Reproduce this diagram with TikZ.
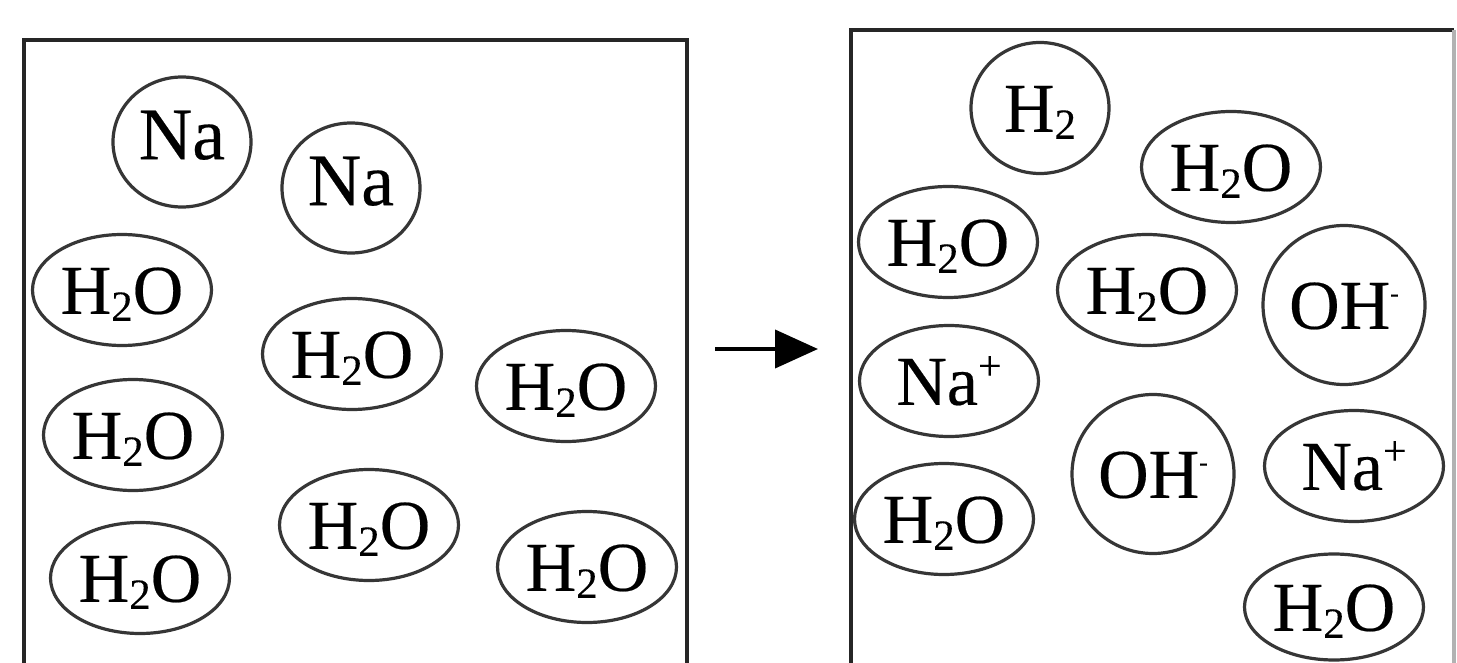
\documentclass[tikz,border=0pt]{standalone}
\usepackage{fontspec}
\setmainfont{Liberation Serif}
\newfontfamily\molfont[FakeBold=0.3]{Liberation Serif}
\usetikzlibrary{shapes.geometric,arrows.meta}
\definecolor{molgray}{HTML}{363636}
\definecolor{boxgray}{HTML}{262626}
\newcommand{\lbl}[2][0pt]{\raisebox{\dimexpr-0.34em+#1\relax}[0pt][0pt]{\makebox[0pt]{#2}}}
\newcommand{\sbt}[1]{\raisebox{-7pt}{\fontsize{43}{43}\selectfont #1}}
\newcommand{\spt}[1]{\raisebox{25pt}{\fontsize{42}{42}\selectfont #1}}
\newcommand{\minus}{\raisebox{27pt}{\fontsize{26}{26}\selectfont -}}
\tikzset{
  mol/.style={ellipse, draw=molgray, line width=3.2pt, inner sep=0pt, outer sep=0pt,
    font=\molfont\fontsize{70}{84}\selectfont},
  water/.style={mol, minimum width=179pt, minimum height=111pt},
  sodium/.style={mol, minimum width=138pt, minimum height=130pt, font=\molfont\fontsize{74}{88}\selectfont},
  ion/.style={mol, minimum width=179pt, minimum height=111pt},
  hydroxide/.style={mol, minimum width=162pt, minimum height=159pt},
  boxline/.style={draw=boxgray, line width=3.5pt},
  reacts/.style={line width=4pt, -{Triangle[length=43pt, width=38pt]}}
}
\begin{document}
\begin{tikzpicture}[x=1pt, y=-1pt]
\fill[white] (0,0) rectangle (1457,663);
\useasboundingbox (0,0) rectangle (1457,663);
% boxes
\coordinate (LB1) at (24,675);
\coordinate (LB2) at (24,40);
\coordinate (LB3) at (687,40);
\coordinate (LB4) at (687,675);
\draw[boxline] (LB1) -- (LB2) -- (LB3) -- (LB4);
\coordinate (RB1) at (851,675);
\coordinate (RB2) at (851,30);
\coordinate (RB3) at (1454,30);
\coordinate (RB4) at (1454,675);
\draw[boxline] (RB1) -- (RB2) -- (RB3);
\draw[boxline, draw=gray!60] (RB3) -- (RB4);
% arrow
\coordinate (A1) at (715,349);
\coordinate (A2) at (818,349);
\draw[reacts] (A1) -- (A2);
% left: before
\node[sodium] (na1) at (182,142) {\lbl[8pt]{Na}};
\node[sodium] (na2) at (351,188) {\lbl[8pt]{Na}};
\node[water] (lw1) at (122,290) {\lbl{H\sbt{2}O}};
\node[water] (lw2) at (352,354) {\lbl{H\sbt{2}O}};
\node[water] (lw3) at (566,386) {\lbl{H\sbt{2}O}};
\node[water] (lw4) at (133,435) {\lbl{H\sbt{2}O}};
\node[water] (lw5) at (369,525) {\lbl{H\sbt{2}O}};
\node[water] (lw6) at (140,578) {\lbl{H\sbt{2}O}};
\node[water] (lw7) at (587,567) {\lbl{H\sbt{2}O}};
% right: after
\node[sodium, minimum height=131pt, font=\molfont\fontsize{70}{84}\selectfont] (h2) at (1040,108) {\lbl{H\sbt{2}}};
\node[water] (rw1) at (1231,167) {\lbl{H\sbt{2}O}};
\node[water] (rw2) at (948,242) {\lbl{H\sbt{2}O}};
\node[water] (rw3) at (1147,290) {\lbl{H\sbt{2}O}};
\node[hydroxide] (oh1) at (1344,305) {\lbl{OH\minus}};
\node[ion] (nap1) at (949,381) {\lbl{Na\spt{+}}};
\node[hydroxide] (oh2) at (1153,474) {\lbl{OH\minus}};
\node[ion] (nap2) at (1354,466) {\lbl{Na\spt{+}}};
\node[water] (rw4) at (944,519) {\lbl{H\sbt{2}O}};
\node[water, minimum height=106pt] (rw5) at (1334,607) {\lbl{H\sbt{2}O}};
\end{tikzpicture}
\end{document}
